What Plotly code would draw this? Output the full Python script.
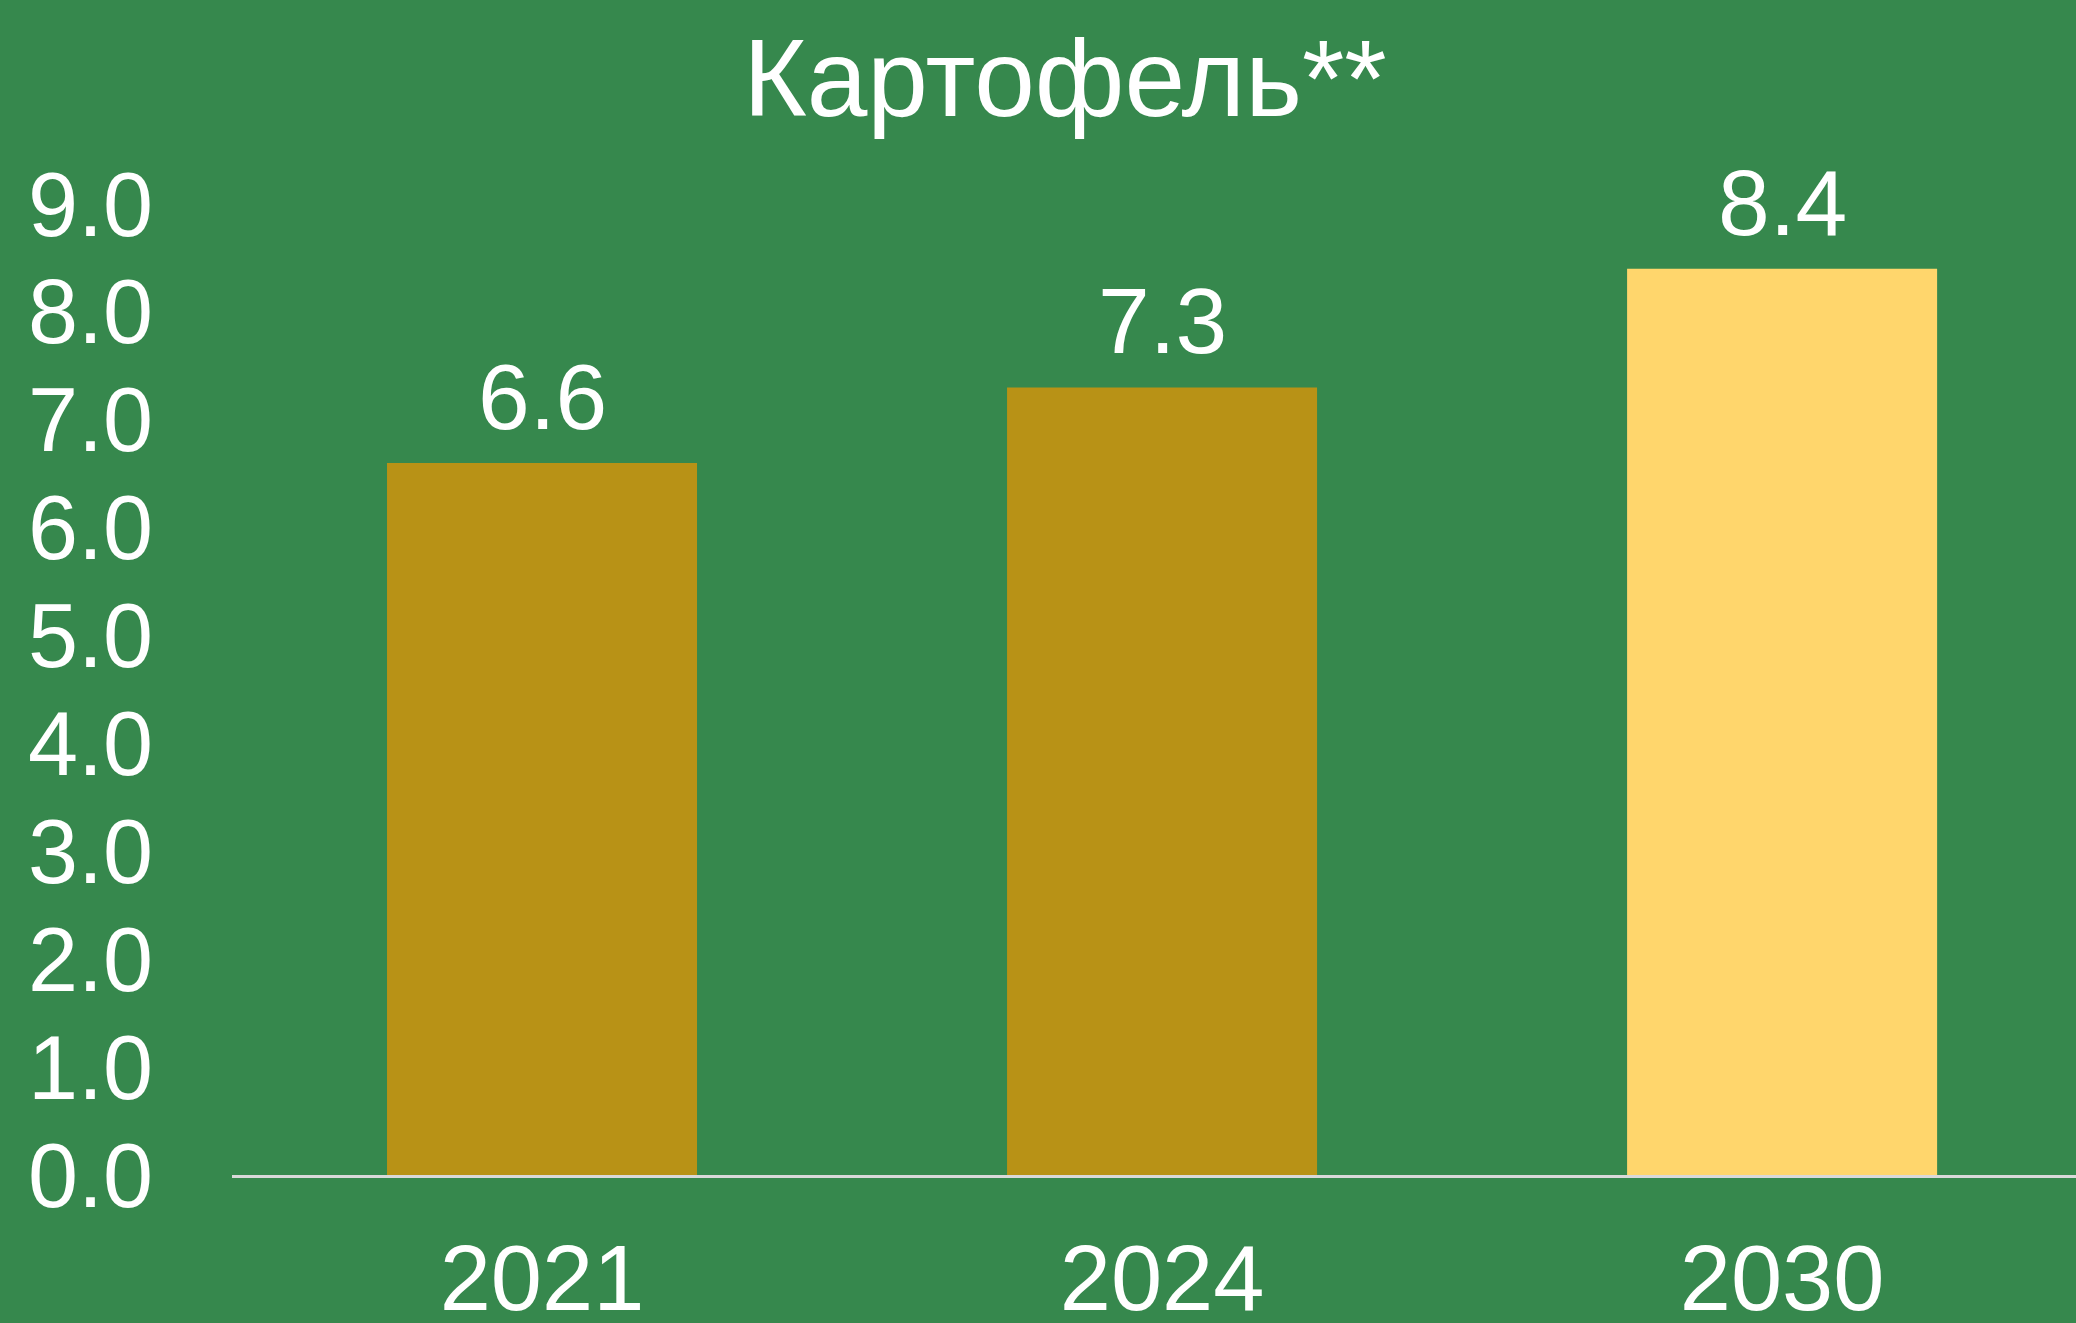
import plotly.graph_objects as go

years = ["2021", "2024", "2030"]
values = [6.6, 7.3, 8.4]
bar_colors = ["#B89216", "#B89216", "#FFD66C"]
y_ticks = [0, 1, 2, 3, 4, 5, 6, 7, 8, 9]
title_text = "Картофель**"

BG = "#36884D"
FONT = "Liberation Sans, Arial, sans-serif"

fig = go.Figure()
fig.add_trace(go.Bar(
    x=years, y=values,
    marker=dict(color=bar_colors, line=dict(width=0)),
    width=0.5,
    cliponaxis=False,
))

# value labels above bars (category axis: position by category index)
for i, v in enumerate(values):
    fig.add_annotation(x=i, y=v, xref="x", yref="y", text=f"{v:.1f}",
                       showarrow=False, xanchor="center", yanchor="bottom",
                       yshift=12, font=dict(family=FONT, size=93, color="white"))

fig.update_layout(
    width=2076, height=1323,
    paper_bgcolor=BG, plot_bgcolor=BG,
    margin=dict(l=232, r=0, t=204, b=148, autoexpand=False),
    showlegend=False,
    title=dict(text=title_text, x=0.513, xanchor="center", xref="container",
               y=1 - 116/1323, yanchor="bottom", yref="container",
               font=dict(family=FONT, size=109, color="white")),
    xaxis=dict(type="category", range=[-0.5, 2.474], showline=True,
               linecolor="#D9D9D9", linewidth=3, showgrid=False,
               tickfont=dict(family=FONT, size=92, color="white"),
               ticks="", ticklabelstandoff=22, automargin=False),
    yaxis=dict(range=[0, 9.0], tickvals=y_ticks,
               ticktext=[f"{v:.1f}" for v in y_ticks],
               showgrid=False, zeroline=False, showline=False,
               tickfont=dict(family=FONT, size=90, color="white"),
               ticks="", ticklabelstandoff=78, automargin=False),
    bargap=0.5,
)

fig.write_html("out.html", config={"displayModeBar": False},
               post_script="document.body.style.margin='0';document.body.style.overflow='hidden';")
